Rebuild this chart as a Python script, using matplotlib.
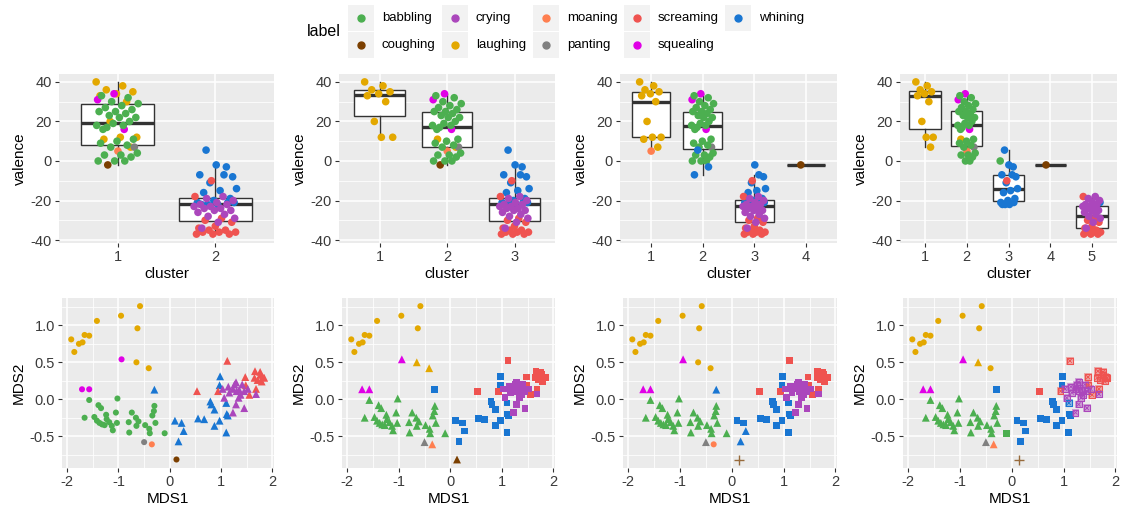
import numpy as np
import matplotlib.pyplot as plt
from matplotlib.patches import Rectangle
from matplotlib.lines import Line2D

plt.rcParams['font.family'] = ['Liberation Sans', 'DejaVu Sans']
plt.rcParams['axes.unicode_minus'] = False

W, H = 1125, 509

label_names = ['babbling', 'coughing', 'crying', 'laughing', 'moaning',
               'panting', 'screaming', 'squealing', 'whining']
label_colors = ['#4CAF50', '#7B3F00', '#AB47BC', '#E3A800', '#FF7F50',
                '#808080', '#EF5350', '#E000E6', '#1976D2']

# one entry per recording (100), grouped by label
labels = (['laughing'] * 12 + ['squealing'] * 3 + ['coughing', 'panting', 'moaning']
          + ['babbling'] * 31 + ['whining'] * 18 + ['screaming'] * 15 + ['crying'] * 18)

mds1 = [
    # laughing
    -1.92, -1.86, -1.77, -1.70, -1.66, -1.57, -1.42, -0.95, -0.58, -0.63, -0.65, -0.41,
    # squealing, coughing, panting, moaning
    -0.94, -1.71, -1.57, 0.13, -0.50, -0.35,
    # babbling
    -1.57, -1.66, -1.39, -1.34, -1.47, -1.42, -1.37, -1.32, -1.24, -1.23, -1.18, -1.13,
    -1.11, -1.03, -1.02, -1.05, -0.80, -0.79, -0.74, -0.66, -0.65, -0.61, -0.48, -0.40,
    -0.39, -0.34, -0.31, -0.30, -0.28, -0.10, -1.27,
    # whining
    -0.30, 0.10, 0.23, 0.27, 0.17, 0.55, 0.67, 0.79, 0.81, 0.87, 0.87, 0.97, 0.98, 0.97,
    1.10, 1.11, 1.13, 1.10,
    # screaming
    0.53, 1.12, 0.94, 1.47, 1.48, 1.55, 1.66, 1.65, 1.71, 1.68, 1.77, 1.81, 1.84, 1.79, 1.76,
    # crying
    1.03, 1.14, 1.23, 1.26, 1.29, 1.30, 1.34, 1.35, 1.41, 1.45, 1.52, 1.29, 1.23, 1.45,
    1.68, 1.06, 1.16, 1.38,
]

mds2 = [
    # laughing
    0.81, 0.64, 0.75, 0.77, 0.87, 0.86, 1.06, 1.13, 1.26, 0.96, 0.50, 0.42,
    # squealing, coughing, panting, moaning
    0.54, 0.135, 0.135, -0.815, -0.58, -0.61,
    # babbling
    -0.01, -0.25, -0.08, -0.12, -0.24, -0.29, -0.32, -0.34, -0.21, -0.27, -0.31, -0.36,
    -0.42, -0.32, 0.01, -0.18, -0.31, -0.45, -0.18, -0.25, -0.36, -0.30, -0.35, -0.40,
    -0.46, -0.22, -0.16, -0.09, -0.32, -0.46, -0.35,
    # whining
    0.13, -0.29, -0.32, -0.43, -0.57, -0.26, -0.27, -0.03, -0.07, -0.14, -0.36, -0.29,
    0.31, 0.19, -0.05, -0.20, -0.22, -0.45,
    # screaming
    0.11, 0.52, 0.11, 0.30, 0.19, 0.06, 0.38, 0.29, 0.26, 0.14, 0.33, 0.30, 0.29, 0.24, 0.37,
    # crying
    0.14, 0.17, 0.14, 0.20, 0.23, 0.11, 0.02, 0.13, 0.20, 0.11, 0.14, -0.07, -0.18, -0.12,
    0.07, 0.02, 0.09, 0.06,
]

valence = [
    # laughing
    40, 38, 36, 35, 34, 33, 30, 20, 12, 12, 11, 7,
    # squealing, coughing, panting, moaning
    34, 31, 16, -2, 7, 5,
    # babbling
    33, 32, 30, 29, 28, 27, 26, 25, 25, 24, 23, 22, 22, 16, 20, 19, 18, 18, 17, 11,
    10, 9, 8, 7, 4, 3, 3, 2, 0, 0, 0,
    # whining
    5.5, -8, -2, -7, -3, -11, -14, -15, -16, -19, -20, -21, -7, -22, -21, -22, -22, -21,
    # screaming
    -10, -18, -29, -30, -31, -33, -34, -35, -35, -36, -36, -36, -37, -37, -37,
    # crying
    -18, -19, -20, -21, -22, -22, -23, -23, -24, -24, -25, -25, -26, -27, -28, -29, -31, -34,
]

# cluster membership for k = 2..5 (same order as above)
cluster_k2 = [1] * 12 + [1] * 6 + [1] * 31 + [2] * 18 + [2] * 15 + [2] * 18
cluster_k3 = [1] * 10 + [2, 2] + [2] * 6 + [2] * 31 + [3] * 18 + [3] * 15 + [3] * 18
cluster_k4 = ([1] * 12 + [2, 2, 2, 4, 2, 1] + [2] * 31
              + [2, 3, 3, 2, 2] + [3] * 13 + [3] * 15 + [3] * 18)
cluster_k5 = ([1] * 10 + [2, 1] + [2, 2, 2, 4, 2, 2] + [2] * 29 + [3, 2]
              + [3] * 14 + [5] + [3] * 3 + [3] + [5] * 14 + [5] * 18)

ks = [2, 3, 4, 5]
cluster_sets = [cluster_k2, cluster_k3, cluster_k4, cluster_k5]

color_of = dict(zip(label_names, label_colors))
pt_colors = np.array([color_of[l] for l in labels])
valence = np.array(valence, dtype=float)
mds1 = np.array(mds1)
mds2 = np.array(mds2)


def style_panel(ax):
    """ggplot-like grey panel with white grid"""
    ax.set_facecolor('#EBEBEB')
    for s in ax.spines.values():
        s.set_visible(False)
    ax.grid(which='major', color='white', linewidth=1.1)
    ax.grid(which='minor', color='white', linewidth=0.55)
    ax.set_axisbelow(True)
    ax.tick_params(which='major', length=3, width=0.8, color='#333333',
                   labelcolor='#3A3A3A', labelsize=10.5, pad=2)
    ax.tick_params(which='minor', length=0)


fig = plt.figure(figsize=(W / 100, H / 100), dpi=100)

lefts_top = [59, 339, 620, 900]
lefts_bot = [62, 342, 623, 903]
rights = [274, 555, 837, 1117]

# jitter offsets for the strip points
jit = ((np.arange(len(valence)) * 0.6180339887) % 1.0 - 0.5) * 0.44

for i, k in enumerate(ks):
    cl = np.array(cluster_sets[i])

    # --- top row: valence by cluster ---
    ax = fig.add_axes([lefts_top[i] / W, 1 - 243 / H, (rights[i] - lefts_top[i]) / W, 169 / H])
    style_panel(ax)
    groups = [valence[cl == c] for c in range(1, k + 1)]
    ax.boxplot(groups, positions=range(1, k + 1), widths=0.75, patch_artist=True,
               showfliers=False, showcaps=False,
               boxprops=dict(facecolor='white', edgecolor='#333333', linewidth=1.0),
               whiskerprops=dict(color='#333333', linewidth=1.0),
               medianprops=dict(color='#333333', linewidth=2.4), zorder=2)
    ax.scatter(cl + jit, valence, c=pt_colors, s=30, linewidths=0, zorder=3)
    ax.set_xlim(0.4, k + 0.6)
    ax.set_ylim(-41.5, 44)
    ax.set_xticks(range(1, k + 1))
    ax.set_xticklabels([str(c) for c in range(1, k + 1)])
    ax.set_yticks([-40, -20, 0, 20, 40])
    ax.set_yticks([-30, -10, 10, 30], minor=True)
    ax.set_xlabel('cluster', fontsize=11, labelpad=2)
    ax.set_ylabel('valence', fontsize=11, labelpad=3)

    # --- bottom row: MDS with cluster shapes ---
    ax = fig.add_axes([lefts_bot[i] / W, 1 - 468 / H, (rights[i] - lefts_bot[i]) / W, 170 / H])
    style_panel(ax)
    for c in range(1, k + 1):
        m = cl == c
        if c == 1:
            ax.scatter(mds1[m], mds2[m], c=pt_colors[m], marker='o', s=19, linewidths=0)
        elif c == 2:
            ax.scatter(mds1[m], mds2[m], c=pt_colors[m], marker='^', s=32, linewidths=0)
        elif c == 3:
            ax.scatter(mds1[m], mds2[m], c=pt_colors[m], marker='s', s=24, linewidths=0)
        elif c == 4:
            ax.scatter(mds1[m], mds2[m], c=pt_colors[m], marker='+', s=55, linewidths=1.0,
                       alpha=0.75)
        else:
            ax.scatter(mds1[m], mds2[m], c=pt_colors[m], marker='s', s=30, linewidths=0,
                       alpha=0.45)
            ax.scatter(mds1[m], mds2[m], facecolors='none', edgecolors=pt_colors[m],
                       marker='s', s=18, linewidths=0.8)
            ax.scatter(mds1[m], mds2[m], c=pt_colors[m], marker='x', s=8, linewidths=0.6)
    ax.set_xlim(-2.1, 2.03)
    ax.set_ylim(-0.93, 1.37)
    ax.set_xticks([-2, -1, 0, 1, 2])
    ax.set_xticks([-1.5, -0.5, 0.5, 1.5], minor=True)
    ax.set_yticks([-0.5, 0.0, 0.5, 1.0])
    ax.set_yticklabels(['-0.5', '0.0', '0.5', '1.0'])
    ax.set_yticks([-0.75, -0.25, 0.25, 0.75, 1.25], minor=True)
    ax.set_xlabel('MDS1', fontsize=11, labelpad=2)
    ax.set_ylabel('MDS2', fontsize=11, labelpad=3)

# --- legend drawn by hand (ggplot style key boxes) ---
fig.text(307 / W, 1 - 32 / H, 'label', fontsize=11.5, va='center', ha='left')
col_x = [348, 442, 533, 624, 725]
row_y = [5, 32]
for j, name in enumerate(label_names):
    col, row = j // 2, j % 2
    x0, y0 = col_x[col], row_y[row]
    fig.add_artist(Rectangle((x0 / W, 1 - (y0 + 26) / H), 26 / W, 26 / H,
                             transform=fig.transFigure, facecolor='#F2F2F2', edgecolor='none'))
    fig.add_artist(Line2D([(x0 + 13) / W], [1 - (y0 + 13) / H], marker='o', markersize=5,
                          color=color_of[name], linestyle='none', transform=fig.transFigure))
    fig.text((x0 + 34) / W, 1 - (y0 + 13) / H, name, fontsize=9.5, va='center', ha='left')

fig.savefig('out.png', dpi=100)
